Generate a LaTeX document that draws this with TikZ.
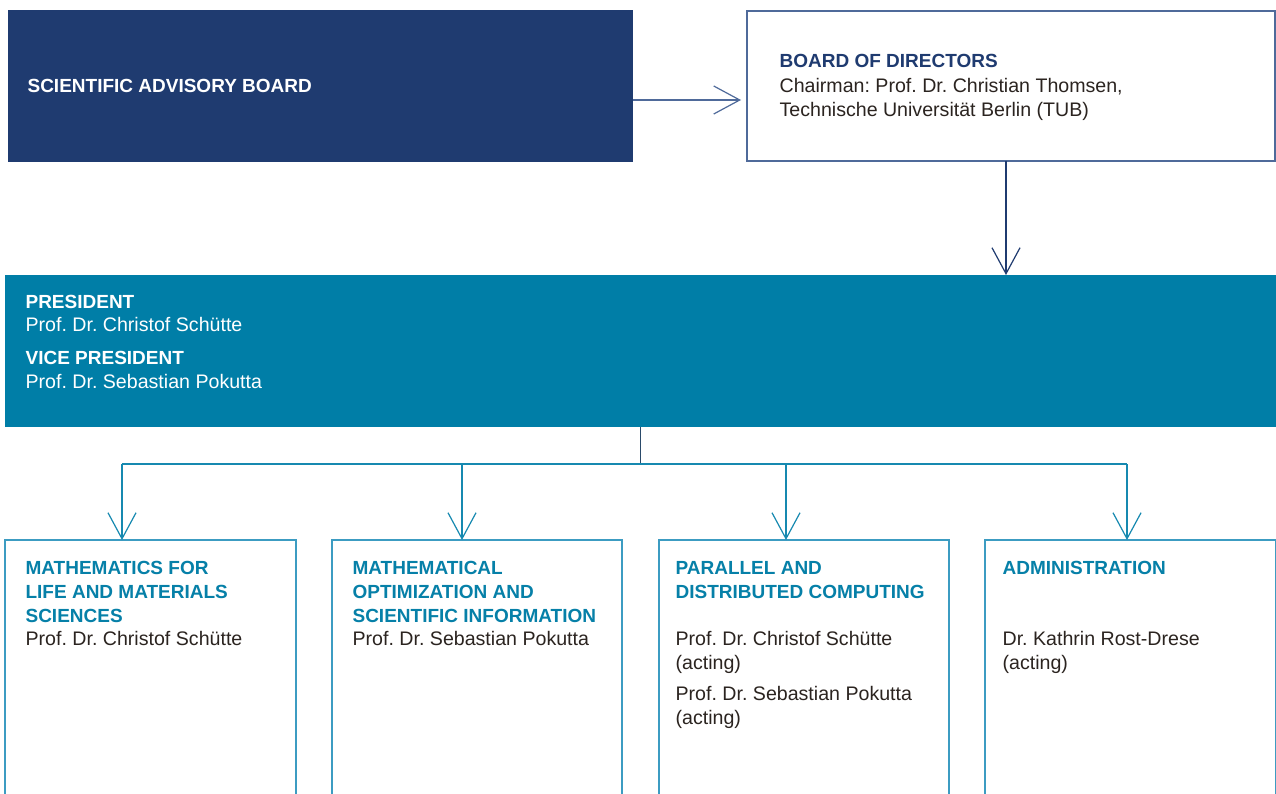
\documentclass[tikz,border=0pt]{standalone}
\usepackage{fontspec}
\setmainfont{Liberation Sans}
\usetikzlibrary{arrows.meta}
\frenchspacing
\definecolor{sabblue}{HTML}{1F3B70}
\definecolor{bodborder}{HTML}{4F6A9A}
\definecolor{presteal}{HTML}{007EA7}
\definecolor{headteal}{HTML}{0680A8}
\definecolor{boxteal}{HTML}{3C9CC2}
\definecolor{connteal}{HTML}{1689B0}
\definecolor{bodytext}{HTML}{2B2420}
\definecolor{darkconn}{HTML}{2A4A6A}
\tikzset{
  box/.style={anchor=north west, inner sep=0, outer sep=0},
  hd/.style={font=\fontsize{19}{24}\selectfont\bfseries, text=headteal, anchor=base west, inner sep=0},
  bt/.style={font=\fontsize{19.6}{24}\selectfont, text=bodytext, anchor=base west, inner sep=0},
  arr/.style={-{Straight Barb[length=26pt,width=28pt]}},
}
\begin{document}
\begin{tikzpicture}[x=1pt,y=-1pt, line width=1.2pt]
\useasboundingbox (0,0) rectangle (1276,794);
\clip (0,0) rectangle (1276,794);
\fill[white] (0,0) rectangle (1276,794);

% top row
\node[box, fill=sabblue, minimum width=625, minimum height=152] (sab) at (8,10) {};
\node[box, draw=bodborder, minimum width=528, minimum height=150] (bod) at (747,11) {};
\node[box, fill=presteal, minimum width=1271, minimum height=152] (pres) at (5,275) {};

% bottom boxes
\node[box, draw=boxteal, minimum width=291, minimum height=280] (b1) at (5,540) {};
\node[box, draw=boxteal, minimum width=290, minimum height=280] (b2) at (332,540) {};
\node[box, draw=boxteal, minimum width=290, minimum height=280] (b3) at (659,540) {};
\node[box, draw=boxteal, minimum width=291, minimum height=280] (b4) at (985,540) {};

% texts: top
\node[hd, text=white] (sabt) at (27,93) {SCIENTIFIC ADVISORY BOARD};
\node[hd, text=sabblue] (bodt) at (779,68) {BOARD OF DIRECTORS};
\node[bt] (bod1) at (779,93) {Chairman: Prof. Dr. Christian Thomsen,};
\node[bt] (bod2) at (779,117) {Technische Universität Berlin (TUB)};

% president
\node[hd, text=white] (pt1) at (25,308) {PRESIDENT};
\node[bt, text=white] (pt2) at (25,331) {Prof. Dr. Christof Schütte};
\node[hd, text=white] (pt3) at (25,364) {VICE PRESIDENT};
\node[bt, text=white] (pt4) at (25,388) {Prof. Dr. Sebastian Pokutta};

% box 1
\node[hd] (b1h1) at (25,574) {MATHEMATICS FOR};
\node[hd] (b1h2) at (25,598) {LIFE AND MATERIALS};
\node[hd] (b1h3) at (25,622) {SCIENCES};
\node[bt] (b1n) at (25,645) {Prof. Dr. Christof Schütte};
% box 2
\node[hd] (b2h1) at (352,574) {MATHEMATICAL};
\node[hd] (b2h2) at (352,598) {OPTIMIZATION AND};
\node[hd] (b2h3) at (352,622) {SCIENTIFIC INFORMATION};
\node[bt] (b2n) at (352,645) {Prof. Dr. Sebastian Pokutta};
% box 3
\node[hd] (b3h1) at (675,574) {PARALLEL AND};
\node[hd] (b3h2) at (675,598) {DISTRIBUTED COMPUTING};
\node[bt] (b3n1) at (675,645) {Prof. Dr. Christof Schütte};
\node[bt] (b3n2) at (675,669) {(acting)};
\node[bt] (b3n3) at (675,700) {Prof. Dr. Sebastian Pokutta};
\node[bt] (b3n4) at (675,724) {(acting)};
% box 4
\node[hd] (b4h1) at (1002,574) {ADMINISTRATION};
\node[bt] (b4n1) at (1002,645) {Dr. Kathrin Rost-Drese};
\node[bt] (b4n2) at (1002,669) {(acting)};

% connectors
\draw[arr, draw=bodborder] ([yshift=-14pt]sab.east) -- ([yshift=-14pt,xshift=-6pt]bod.west);
\draw[arr, draw=sabblue] ([xshift=-5pt]bod.south) -- ([xshift=-5pt]bod.south |- pres.north);
\draw[draw=darkconn, line width=0.8pt] (pres.south) -- ++(0,37) coordinate (j);
\draw[draw=connteal] ([xshift=-28.5pt]b1.north |- j) -- ([xshift=-3.5pt]b4.north |- j);
\draw[arr, draw=connteal] ([xshift=-28.5pt]b1.north |- j) -- ([xshift=-28.5pt]b1.north);
\draw[arr, draw=connteal] ([xshift=-15pt]b2.north |- j) -- ([xshift=-15pt]b2.north);
\draw[arr, draw=connteal] ([xshift=-18pt]b3.north |- j) -- ([xshift=-18pt]b3.north);
\draw[arr, draw=connteal] ([xshift=-3.5pt]b4.north |- j) -- ([xshift=-3.5pt]b4.north);
\end{tikzpicture}
\end{document}
